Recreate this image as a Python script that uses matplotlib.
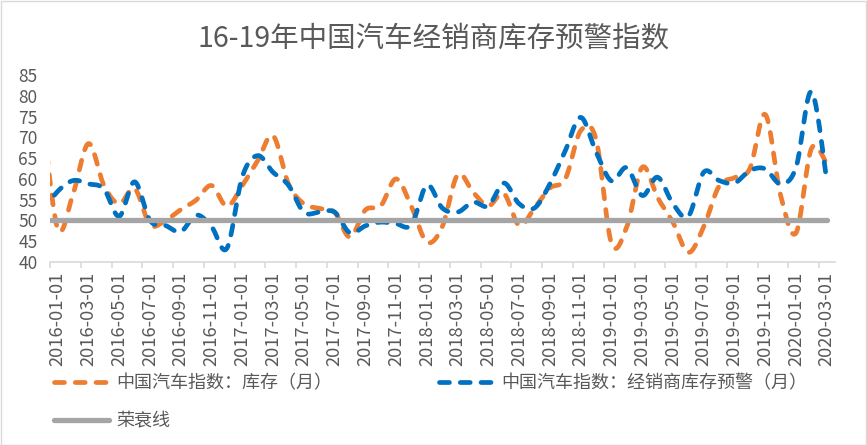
import matplotlib
matplotlib.use("Agg")
import matplotlib.pyplot as plt
import numpy as np
import pandas as pd
from matplotlib.patches import Rectangle

plt.rcParams["font.family"] = ["Noto Sans CJK SC", "DejaVu Sans"]

# 2015-12 sits left of the axis start; only its clipped segment shows
months = pd.date_range("2015-12-01", "2020-03-01", freq="MS")
inventory = [76, 48, 56.4, 68.5, 58.5, 54, 57.7, 49, 50, 52.6, 54.9, 58.4, 53.4,
             58.4, 64.4, 70.4, 58.8, 54, 52.9, 52, 46, 52.5, 53.5, 60, 53.3,
             44.8, 48.5, 61, 56.8, 53.5, 56.5, 48.8, 53, 57.8, 60, 71.6, 69.5,
             44.5, 48.5, 62.8, 55.5, 49.5, 42.3, 48.5, 58.3, 60.3, 62.5, 75.5,
             56, 47, 67.3, 63.6]
warning = [52, 57, 59.6, 58.8, 57.6, 51, 59.3, 50, 48.8, 47.3, 51.3, 48.5, 43.3,
           60.5, 65.6, 61.6, 58.5, 52, 52, 52, 47, 48.7, 49.6, 49.2, 49,
           58.5, 53, 52, 54.4, 53.5, 59, 54, 53, 58.8, 66.8, 74.8, 66.5,
           59.5, 62.7, 56, 60.4, 54, 51, 61.6, 59.6, 59, 62, 62.4, 58.8,
           62.8, 81, 59.6]
boom_line = [50] * len(months)

labels = ["中国汽车指数：库存（月）", "中国汽车指数：经销商库存预警（月）", "荣衰线"]
title = "16-19年中国汽车经销商库存预警指数"
yticks = [40, 45, 50, 55, 60, 65, 70, 75, 80, 85]

TEXT = "#595959"


def smooth(x, y, n=20):
    """Excel-style smoothed line: Bezier through each point."""
    x = np.asarray(x, float)
    y = np.asarray(y, float)
    px = np.concatenate([[x[0]], x, [x[-1]]])
    py = np.concatenate([[y[0]], y, [y[-1]]])
    t = np.linspace(0, 1, n)[:, None]
    out = []
    for i in range(len(x) - 1):
        p0 = np.array([px[i], py[i]])
        p1 = np.array([px[i + 1], py[i + 1]])
        p2 = np.array([px[i + 2], py[i + 2]])
        p3 = np.array([px[i + 3], py[i + 3]])
        c1 = p1 + (p2 - p0) / 6
        c2 = p2 - (p3 - p1) / 6
        seg = ((1 - t) ** 3) * p1 + 3 * ((1 - t) ** 2) * t * c1 \
            + 3 * (1 - t) * t ** 2 * c2 + t ** 3 * p2
        out.append(seg if i == 0 else seg[1:])
    pts = np.vstack(out)
    return pts[:, 0], pts[:, 1]


pos = np.arange(len(months)) - 0.5

fig = plt.figure(figsize=(8.67, 4.45), dpi=100)
ax = fig.add_axes([50 / 867, 1 - 262 / 445, 784.5 / 867, 187 / 445])

dash = dict(lw=3.4, dash_capstyle="round", dashes=(2.1, 2.3))
l1, = ax.plot(*smooth(pos, inventory), color="#ED7D31", **dash)
l2, = ax.plot(*smooth(pos, warning), color="#0070C0", **dash)
l3, = ax.plot(pos, boom_line, color="#A5A5A5", lw=3.8, solid_capstyle="round")

ax.set_xlim(0, 51)
ax.set_ylim(40, 85)
ax.set_yticks(yticks)
ax.tick_params(axis="y", length=0, pad=9, labelsize=12.5, labelcolor=TEXT)

label_pos = pos[1::2]
ax.set_xticks(label_pos)
ax.set_xticklabels([m.strftime("%Y-%m-%d") for m in months[1::2]], rotation=90)
ax.set_xticks(np.arange(0, 51, 2), minor=True)
ax.tick_params(axis="x", which="major", length=0, pad=7, labelsize=13.2,
               labelcolor=TEXT)
ax.tick_params(axis="x", which="minor", length=4, width=1.2, color="#D9D9D9")

for side in ("top", "right", "left"):
    ax.spines[side].set_visible(False)
ax.spines["bottom"].set_color("#D9D9D9")
ax.spines["bottom"].set_linewidth(1.2)

fig.text(0.5, 1 - 38 / 445, title, ha="center", va="center", fontsize=20.5,
         color=TEXT)

fig.legend([l1, l3, l2], [labels[0], labels[2], labels[1]], ncol=2,
           loc="upper left", bbox_to_anchor=(54 / 867, 1 - 374 / 445),
           frameon=False, fontsize=13, labelcolor=TEXT, handlelength=3.05,
           handletextpad=0.4, columnspacing=5.9, labelspacing=1.15,
           borderpad=0, borderaxespad=0)

fig.patches.append(Rectangle((0.5 / 867, 0.5 / 445), 865.5 / 867, 443.5 / 445,
                             transform=fig.transFigure, fill=False,
                             edgecolor="#D9D9D9", lw=1))

fig.savefig("out.png", dpi=100)
